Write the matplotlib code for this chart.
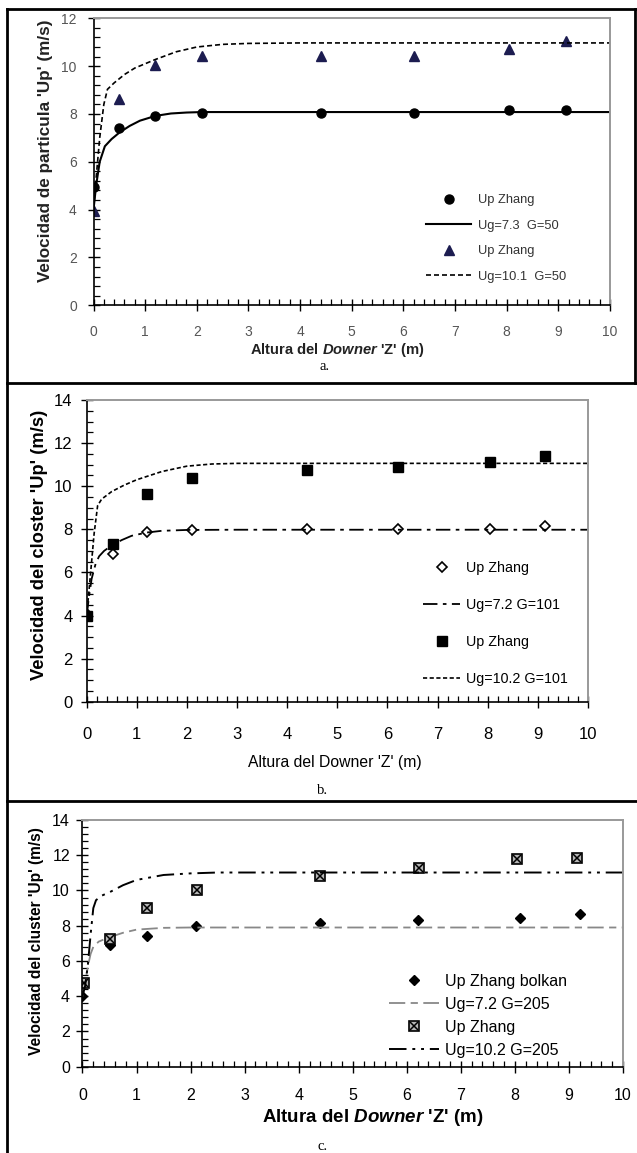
import matplotlib
matplotlib.use('Agg')
import matplotlib.pyplot as plt
from matplotlib.lines import Line2D
from matplotlib.ticker import MultipleLocator

W, H = 637, 1153

# --- panel a ---
a_x = [0.0, 0.5, 1.2, 2.1, 4.4, 6.2, 8.05, 9.15]
a_circ = [4.93, 7.4, 7.93, 8.06, 8.06, 8.04, 8.18, 8.18]
a_tri = [3.94, 8.64, 10.05, 10.44, 10.44, 10.44, 10.72, 11.07]
a_l1_x = [0, 0.05, 0.12, 0.22, 0.35, 0.5, 0.7, 0.9, 1.2, 1.5, 1.8, 2.1, 3, 10]
a_l1_y = [4.0, 5.0, 6.0, 6.65, 6.95, 7.22, 7.5, 7.72, 7.92, 8.02, 8.06, 8.08, 8.08, 8.08]
a_l2_x = [0, 0.05, 0.12, 0.2, 0.27, 0.4, 0.6, 0.8, 1.0, 1.2, 1.6, 2.0, 2.5, 3.0, 4, 10]
a_l2_y = [4.0, 5.3, 7.0, 8.4, 9.03, 9.3, 9.65, 9.92, 10.1, 10.28, 10.6, 10.8, 10.91, 10.95, 10.97, 10.97]

# --- panel b ---
b_x = [0.0, 0.52, 1.2, 2.1, 4.4, 6.22, 8.05, 9.15]
b_sq = [3.98, 7.33, 9.65, 10.37, 10.76, 10.91, 11.11, 11.42]
b_dia = [4.07, 6.87, 7.87, 7.99, 8.0, 8.0, 8.0, 8.15]
b_l1_x = [0, 0.05, 0.1, 0.18, 0.25, 0.35, 0.5, 0.7, 0.9, 1.2, 1.5, 2.0, 3, 10]
b_l1_y = [4.0, 4.9, 5.7, 6.4, 6.75, 7.0, 7.25, 7.5, 7.7, 7.85, 7.93, 7.97, 7.98, 7.98]
b_l2_x = [0, 0.05, 0.1, 0.15, 0.22, 0.3, 0.5, 0.75, 1.0, 1.5, 2.0, 2.5, 3.0, 10]
b_l2_y = [4.0, 5.2, 6.5, 7.8, 9.1, 9.4, 9.75, 10.05, 10.3, 10.68, 10.93, 11.03, 11.06, 11.06]

# --- panel c ---
c_x = [0.02, 0.5, 1.19, 2.11, 4.39, 6.22, 8.04, 9.14]
c_xsq = [4.77, 7.25, 8.99, 10.03, 10.82, 11.29, 11.77, 11.86]
c_dx = [0.0, 0.5, 1.2, 2.1, 4.4, 6.2, 8.1, 9.2]
c_dia = [4.01, 6.89, 7.43, 8.0, 8.15, 8.3, 8.46, 8.66]
c_l1_x = [0, 0.05, 0.1, 0.15, 0.2, 0.3, 0.5, 0.75, 1.0, 1.5, 2.0, 10]
c_l1_y = [4.0, 4.8, 5.7, 6.4, 6.8, 7.1, 7.35, 7.6, 7.78, 7.88, 7.9, 7.9]
c_l2_x = [0, 0.05, 0.1, 0.15, 0.2, 0.25, 0.35, 0.5, 0.75, 1.0, 1.5, 2.0, 2.5, 10]
c_l2_y = [4.0, 4.6, 5.8, 7.5, 9.0, 9.45, 9.7, 9.9, 10.3, 10.6, 10.88, 10.97, 11.02, 11.02]

SANS = 'Liberation Sans'
SERIF = 'Liberation Serif'

plt.rcParams['font.family'] = SANS
plt.rcParams['mathtext.fontset'] = 'custom'
plt.rcParams['mathtext.it'] = 'Liberation Sans:italic:bold'
plt.rcParams['mathtext.rm'] = 'Liberation Sans:bold'

fig = plt.figure(figsize=(W / 100, H / 100), dpi=100)


def fx(x):
    return x / W


def fy(y):
    return 1 - y / H


def make_axes(l, t, r, b):
    return fig.add_axes([fx(l), fy(b), fx(r - l), (b - t) / H])


def style_axes(ax, ymax, ymaj, ymin, size, color, xpad, ypad):
    ax.set_xlim(0, 10)
    ax.set_ylim(0, ymax)
    ax.xaxis.set_major_locator(MultipleLocator(1))
    ax.xaxis.set_minor_locator(MultipleLocator(0.2))
    ax.yaxis.set_major_locator(MultipleLocator(ymaj))
    ax.yaxis.set_minor_locator(MultipleLocator(ymin))
    ax.tick_params(which='major', direction='inout', length=8, width=1.0, colors='black',
                   labelcolor=color, labelsize=size)
    ax.tick_params(which='minor', direction='in', length=4, width=0.9, color='black')
    ax.tick_params(axis='x', which='major', pad=xpad)
    ax.tick_params(axis='y', which='major', pad=ypad)
    for s in ['left', 'bottom']:
        ax.spines[s].set_color('black')
        ax.spines[s].set_linewidth(1.2)
    for s in ['top', 'right']:
        ax.spines[s].set_color('#999999')
        ax.spines[s].set_linewidth(1.4)


# panel a
ax = make_axes(93.5, 18.3, 610, 305.3)
p1, = ax.plot(a_x, a_circ, 'o', color='black', ms=6.5, ls='none', label='Up Zhang')
l1, = ax.plot(a_l1_x, a_l1_y, '-', color='black', lw=1.5, label='Ug=7.3  G=50')
p2, = ax.plot(a_x, a_tri, '^', color='#1c1c50', ms=6.5, ls='none', label='Up Zhang')
l2, = ax.plot(a_l2_x, a_l2_y, color='black', lw=1.2, dashes=(3, 1.8), label='Ug=10.1  G=50')
style_axes(ax, 12, 2, 0.4, 10, '#555555', 10, 8)
ax.legend(handles=[p1, l1, p2, l2], loc='upper left', bbox_to_anchor=(fx(426), fy(194)),
          bbox_transform=fig.transFigure, frameon=False, fontsize=9.3, handlelength=3.5,
          handletextpad=0.5, labelspacing=1.05, borderpad=0, borderaxespad=0, labelcolor='#333333')
fig.text(fx(46), fy(151), "Velocidad de particula 'Up' (m/s)", rotation=90, ha='center',
         va='center', fontsize=12.3, fontweight='bold', color='#222222')
fig.text(fx(337), fy(350), r"Altura del $Downer$ 'Z' (m)", ha='center', va='center',
         fontsize=10.6, fontweight='bold', color='#222222')
fig.text(fx(325), fy(366), 'a.', ha='center', va='center', fontsize=10.5, family=SERIF)

# panel b
ax = make_axes(86.6, 400, 588, 701.7)
p3, = ax.plot(b_x, b_dia, 'D', mfc='white', mec='black', mew=1.2, ms=5, ls='none', label='Up Zhang')
l3, = ax.plot(b_l1_x, b_l1_y, color='black', lw=1.3, dashes=(8, 3, 2, 3), label='Ug=7.2 G=101')
p4, = ax.plot(b_x, b_sq, 's', color='black', ms=6.5, ls='none', label='Up Zhang')
l4, = ax.plot(b_l2_x, b_l2_y, color='black', lw=1.2, dashes=(2.5, 1.5), label='Ug=10.2 G=101')
style_axes(ax, 14, 2, 0.5, 12, 'black', 14, 6)
ax.legend(handles=[p3, l3, p4, l4], loc='upper left', bbox_to_anchor=(fx(423), fy(561)),
          bbox_transform=fig.transFigure, frameon=False, fontsize=10.3,
          handlelength=2.6, handletextpad=0.4, labelspacing=1.6, borderpad=0, borderaxespad=0)
fig.text(fx(40), fy(545), "Velocidad del closter 'Up' (m/s)", rotation=90, ha='center',
         va='center', fontsize=13.2, fontweight='bold')
fig.text(fx(335), fy(763), "Altura del Downer 'Z' (m)", ha='center', va='center',
         fontsize=11.3)
fig.text(fx(323), fy(790), 'b.', ha='center', va='center', fontsize=10.5, family=SERIF)

# panel c
ax = make_axes(82.5, 820, 623, 1066.7)
p5, = ax.plot(c_dx, c_dia, 'D', color='black', ms=5, ls='none', label='Up Zhang bolkan')
l5, = ax.plot(c_l1_x, c_l1_y, color='#888888', lw=1.3, dashes=(9, 3, 4, 3), label='Ug=7.2 G=205')
p6a, = ax.plot(c_x, c_xsq, 's', mfc='#b5b5b5', mec='black', mew=1.2, ms=7, ls='none')
p6b, = ax.plot(c_x, c_xsq, 'x', color='black', mew=1.1, ms=5.5, ls='none')
l6, = ax.plot(c_l2_x, c_l2_y, color='black', lw=1.4, dashes=(9, 3, 1.5, 3, 1.5, 3), label='Ug=10.2 G=205')
style_axes(ax, 14, 2, 0.4, 11.5, 'black', 11, 5)
ax.legend(handles=[p5, l5, (p6a, p6b), l6],
          labels=['Up Zhang bolkan', 'Ug=7.2 G=205', 'Up Zhang', 'Ug=10.2 G=205'],
          loc='upper left', bbox_to_anchor=(fx(389), fy(974)),
          bbox_transform=fig.transFigure, frameon=False, fontsize=11.5, handlelength=3.1,
          handletextpad=0.4, labelspacing=0.5, borderpad=0, borderaxespad=0)
fig.text(fx(37), fy(941), "Velocidad del cluster 'Up' (m/s)", rotation=90, ha='center',
         va='center', fontsize=11.2, fontweight='bold')
fig.text(fx(373), fy(1117), r"Altura del $Downer$ 'Z' (m)", ha='center', va='center',
         fontsize=13.5, fontweight='bold')
fig.text(fx(323), fy(1147), 'c.', ha='center', va='center', fontsize=10.5, family=SERIF)

# frame lines round the three panels
for xs, ys in [((7, 7), (9, H)), ((7, W), (9, 9)), ((7, W), (383, 383)),
               ((7, W), (801, 801)), ((635, 635), (9, 383))]:
    fig.add_artist(Line2D([fx(v) for v in xs], [fy(v) for v in ys], color='black', lw=2))

fig.savefig('out.png', dpi=100)
